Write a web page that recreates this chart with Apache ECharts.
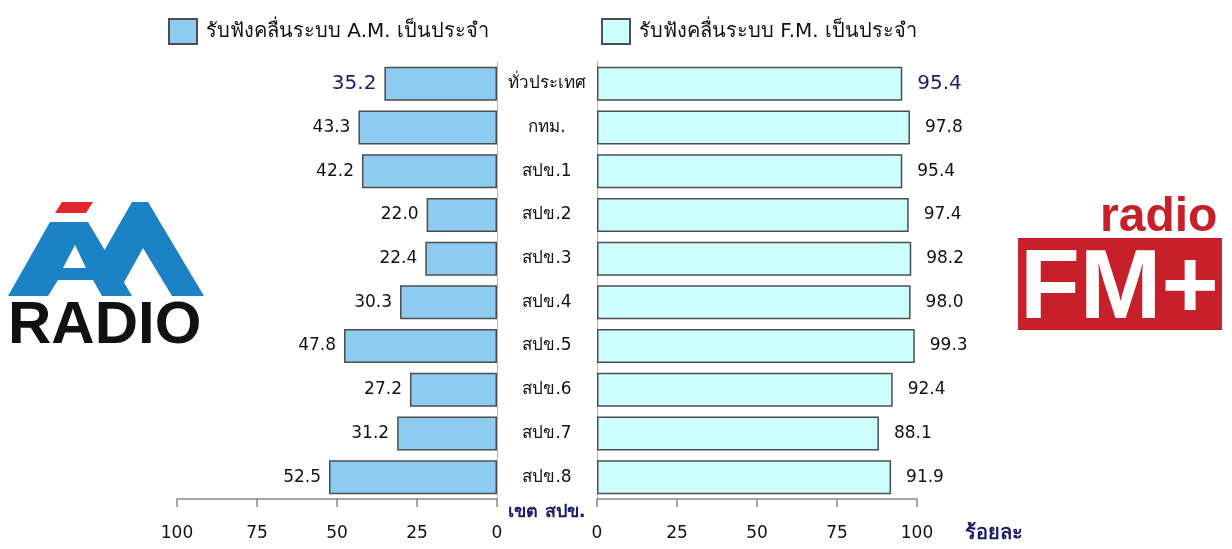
<!DOCTYPE html>
<html>
<head>
<meta charset="utf-8">
<script src="https://cdn.jsdelivr.net/npm/echarts@6/dist/echarts.min.js"></script>
<style>
    html, body { margin: 0; padding: 0; background: #fff; }
    #chart { width: 1232px; height: 549px; }
</style>
</head>
<body>
<div id="chart"></div>
<script>
// ข้อมูล
const categories = ['ทั่วประเทศ', 'กทม.', 'สปข.1', 'สปข.2', 'สปข.3', 'สปข.4', 'สปข.5', 'สปข.6', 'สปข.7', 'สปข.8'];
const amValues = [35.2, 43.3, 42.2, 22.0, 22.4, 30.3, 47.8, 27.2, 31.2, 52.5];
const fmValues = [95.4, 97.8, 95.4, 97.4, 98.2, 98.0, 99.3, 92.4, 88.1, 91.9];
const amName = 'รับฟังคลื่นระบบ A.M. เป็นประจำ';
const fmName = 'รับฟังคลื่นระบบ F.M. เป็นประจำ';

const font = "Tahoma, 'DejaVu Sans', 'Noto Sans', sans-serif";
const logoFont = "'Liberation Sans', Arial, sans-serif";
const navy = '#1c1c6b';

const chart = echarts.init(document.getElementById('chart'));

// แถวแรก (ทั่วประเทศ) ตัวเลขสีน้ำเงินเข้ม ตัวใหญ่กว่า
const toData = (arr) => arr.map((v, i) => i === 0
    ? { value: v, label: { color: navy, fontSize: 20 } }
    : { value: v });

const xAxisBase = {
    type: 'value',
    min: 0,
    max: 100,
    interval: 25,
    splitLine: { show: false },
    axisLine: { show: true, lineStyle: { color: '#8a8a8a', width: 1.5 } },
    axisTick: { show: true, length: 8, lineStyle: { color: '#8a8a8a', width: 1.5 } },
    axisLabel: { margin: 26, fontSize: 17, color: '#111', fontFamily: font }
};

const legendBase = {
    icon: 'rect',
    itemWidth: 28, itemHeight: 25,
    textStyle: { fontSize: 20, color: '#111', fontFamily: font, padding: [0, 0, 0, 4] }
};

const option = {
    backgroundColor: '#fff',
    animation: false,
    legend: [
        Object.assign({ data: [amName], left: 163, top: 13 }, legendBase),
        Object.assign({ data: [fmName], left: 596, top: 13 }, legendBase)
    ],
    grid: [
        { left: 177, width: 320, top: 62, height: 437 },
        { left: 597, width: 320, top: 62, height: 437 }
    ],
    xAxis: [
        Object.assign({ gridIndex: 0, inverse: true }, xAxisBase),
        Object.assign({ gridIndex: 1 }, xAxisBase)
    ],
    yAxis: [
        {
            gridIndex: 0, type: 'category', data: categories, inverse: true, position: 'right',
            axisLine: { show: true, lineStyle: { color: '#b5b5b5' } },
            axisTick: { show: false },
            axisLabel: { show: false }
        },
        {
            gridIndex: 1, type: 'category', data: categories, inverse: true, position: 'left',
            axisLine: { show: true, lineStyle: { color: '#b5b5b5' } },
            axisTick: { show: false },
            axisLabel: { margin: 50, align: 'center', fontSize: 17, color: '#111', fontFamily: font }
        }
    ],
    series: [
        {
            name: amName,
            type: 'bar',
            xAxisIndex: 0, yAxisIndex: 0,
            barWidth: 34,
            itemStyle: { color: '#8ecbf1', borderColor: '#4d4d4d', borderWidth: 1.5 },
            label: {
                show: true, position: 'left', distance: 8,
                fontSize: 17, color: '#111', fontFamily: font,
                formatter: (p) => p.value.toFixed(1)
            },
            data: toData(amValues)
        },
        {
            name: fmName,
            type: 'bar',
            xAxisIndex: 1, yAxisIndex: 1,
            barWidth: 34,
            itemStyle: { color: '#ccffff', borderColor: '#4d4d4d', borderWidth: 1.5 },
            label: {
                show: true, position: 'right', distance: 15,
                fontSize: 17, color: '#111', fontFamily: font,
                formatter: (p) => p.value.toFixed(1)
            },
            data: toData(fmValues)
        }
    ],
    graphic: [
        // ชื่อแกน
        {
            type: 'text', x: 547, y: 503,
            style: { text: 'เขต สปข.', fill: navy, font: 'bold 18px ' + font, textAlign: 'center', textVerticalAlign: 'top' }
        },
        {
            type: 'text', x: 965, y: 524,
            style: { text: 'ร้อยละ', fill: navy, font: 'bold 20px ' + font, textVerticalAlign: 'top' }
        },
        // โลโก้ AM RADIO
        { type: 'polygon', shape: { points: [[55, 213], [62, 202], [93, 202], [86, 213]] }, style: { fill: '#e3262d' } },
        { type: 'polygon', shape: { points: [[8, 296], [50, 222], [88, 222], [132, 296], [102, 296], [93, 280], [58, 280], [48, 296]] }, style: { fill: '#1b82c5' } },
        { type: 'polygon', shape: { points: [[63, 268], [75, 245], [86, 268]] }, style: { fill: '#fff' } },
        { type: 'polygon', shape: { points: [[100, 258], [132, 202], [148, 202], [204, 296], [172, 296], [143, 248], [122, 286]] }, style: { fill: '#1b82c5' } },
        { type: 'text', x: 8, y: 296, style: { text: 'RADIO', fill: '#111', font: 'bold 60px ' + logoFont, textVerticalAlign: 'top' } },
        // โลโก้ FM+
        { type: 'text', x: 1100, y: 194, style: { text: 'radio', fill: '#c8202a', font: 'bold 48px ' + logoFont, textVerticalAlign: 'top' } },
        { type: 'rect', shape: { x: 1018, y: 238, width: 204, height: 92 }, style: { fill: '#c8202a' } },
        { type: 'text', x: 1020, y: 242, style: { text: 'FM+', fill: '#fff', font: 'bold 98px ' + logoFont, textVerticalAlign: 'top' } }
    ]
};

chart.setOption(option);

window.addEventListener('resize', function () {
    chart.resize();
});
</script>
</body>
</html>
